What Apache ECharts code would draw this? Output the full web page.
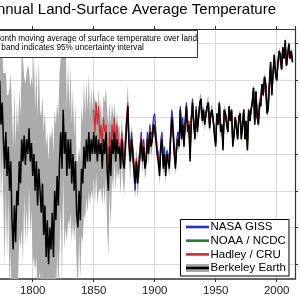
<!DOCTYPE html>
<html><head><meta charset="utf-8">
<script src="https://cdn.jsdelivr.net/npm/echarts@6/dist/echarts.min.js"></script>
<style>html,body{margin:0;padding:0;background:#fff}#c{width:300px;height:300px}</style>
</head><body><div id="c"></div>
<script>
// ---------------- data ----------------
const berkeleyStart = 1750;
const berkeley = [
-0.9,-0.6,-1.2,-0.4,-0.9,-1.1,-0.3,-0.7,-1.3,-0.5,
-1.4,-0.2,-0.6,-1.1,-0.4,-0.5,-0.7,-1.2,-0.9,-0.8,
-0.6,-1.0,-0.5,0.5,-0.1,0.2,-0.3,-0.7,-0.2,-0.8,
-0.4,-1.0,-0.6,-1.4,-1.8,-1.2,-1.7,-1.0,-1.2,-0.6,
-0.9,-0.3,-0.6,-0.25,-0.65,-0.3,-0.5,-0.15,-0.6,-0.35,
-0.8,-0.5,-1.0,-0.6,-1.2,-0.7,-1.0,-1.3,-0.9,-1.6,
-1.2,-1.9,-1.4,-2.0,-1.5,-1.8,-1.3,-1.9,-1.0,-1.4,
-0.8,-1.2,-0.6,-0.2,-0.7,0.1,-0.5,-0.2,-0.8,-0.3,
-0.7,-0.3,-0.9,-0.5,-1.0,-0.6,-1.3,-1.5,-1.0,-1.4,
-0.7,-0.9,-0.4,-0.7,-0.3,-0.6,-0.2,-0.6,-0.3,-0.5,
-0.2,-0.5,-0.25,-0.6,-0.3,-0.5,-0.35,-0.7,-0.3,-0.5,
-0.2,-0.7,-1.0,-0.4,-0.8,-0.3,-0.5,-0.2,-0.6,-0.3,
-0.5,-0.4,-0.7,-0.3,-0.6,-0.7,-0.4,-0.1,0.15,-0.4,
-0.6,-0.3,-0.5,-0.7,-0.9,-0.6,-0.9,-0.7,-0.5,-0.3,
-0.6,-0.4,-0.7,-0.6,-0.3,-0.5,-0.2,-0.4,-0.3,-0.1,
-0.15,-0.3,-0.5,-0.6,-0.8,-0.4,-0.3,-0.7,-0.5,-0.8,
-0.5,-0.6,-0.7,-0.3,0.0,-0.2,-0.5,-0.7,-0.4,-0.3,
-0.4,0.1,-0.3,-0.1,-0.4,-0.1,0.15,-0.2,-0.1,-0.6,
-0.05,0.2,-0.1,-0.3,0.1,-0.2,0.0,0.2,0.25,-0.05,
0.1,-0.1,0.05,0.15,0.2,-0.15,0.05,0.1,-0.05,-0.25,
-0.4,0.05,-0.1,0.2,-0.2,-0.1,-0.45,0.1,0.05,-0.1,
-0.2,0.15,-0.05,0.1,-0.4,-0.25,0.0,-0.15,-0.3,0.0,
0.05,-0.3,-0.1,0.1,-0.3,-0.05,-0.45,0.1,-0.05,0.1,
0.2,0.4,-0.1,0.35,0.0,-0.1,0.2,0.15,0.45,0.3,
0.55,0.45,0.05,0.1,0.45,0.75,0.3,0.6,0.85,0.6,
0.5,0.75,0.9,0.85,0.65,0.95,0.8,1.05,0.7,0.85,
1.0,0.8,0.9,0.75
];
const berkeleyUnc = [
1.3,1.5,1.2,1.4,1.3,1.1,1.5,1.2,1.4,1.3,
1.2,1.5,1.1,1.3,1.4,1.2,1.3,1.1,1.4,1.2,
1.3,1.0,1.2,0.5,1.1,0.7,0.9,1.3,0.8,1.1,
0.7,1.4,1.2,1.5,1.4,1.6,1.3,1.2,1.0,1.0,
0.9,1.2,1.4,0.8,1.1,0.9,1.2,0.8,1.0,0.9,
1.2,1.4,1.1,1.3,1.2,1.5,1.1,1.3,1.2,1.4,
1.3,1.5,1.2,1.4,1.3,1.5,1.2,1.4,1.1,1.3,
1.0,1.2,1.2,1.0,1.6,0.9,1.3,1.3,0.9,1.1,
0.8,1.0,0.8,0.9,0.7,0.8,0.7,0.9,0.6,0.8,
0.9,0.8,0.9,0.7,0.8,0.7,0.8,0.6,0.7,0.6,
0.6,0.7,0.5,0.6,0.7,0.5,0.6,0.5,0.6,0.7,
0.6,0.8,0.9,0.6,0.7,0.5,0.5,0.4,0.4,0.4,
0.35,0.3,0.35,0.3,0.3,0.35,0.3,0.25,0.3,0.25,
0.25,0.2,0.2,0.25,0.2,0.2,0.2,0.2,0.18,0.18,
0.18,0.15,0.15,0.15,0.15,0.15,0.15,0.14,0.14,0.13,
0.13,0.13,0.12,0.12,0.12,0.12,0.12,0.11,0.11,0.11,
0.11,0.11,0.11,0.1,0.1,0.1,0.1,0.1,0.1,0.1,
0.1,0.1,0.1,0.09,0.09,0.09,0.09,0.09,0.09,0.09,
0.09,0.09,0.09,0.09,0.09,0.09,0.09,0.09,0.09,0.09,
0.09,0.09,0.09,0.09,0.09,0.09,0.09,0.08,0.08,0.08,
0.07,0.07,0.07,0.07,0.07,0.07,0.07,0.07,0.07,0.07,
0.06,0.06,0.06,0.06,0.06,0.06,0.06,0.06,0.06,0.06,
0.06,0.06,0.06,0.06,0.06,0.06,0.06,0.06,0.06,0.06,
0.06,0.06,0.06,0.06,0.06,0.06,0.06,0.06,0.06,0.06,
0.06,0.06,0.06,0.06,0.06,0.06,0.06,0.06,0.06,0.06,
0.05,0.05,0.05,0.05,0.05,0.05,0.05,0.05,0.05,0.05,
0.05,0.05,0.05,0.05
];
const hadleyStart = 1850;
const hadley = [
0.1,-0.2,0.2,-0.1,0.15,-0.3,-0.1,-0.4,0.0,-0.2,
-0.1,-0.4,-0.7,-0.2,-0.5,-0.1,-0.3,0.0,-0.4,-0.1,
-0.3,-0.3,-0.5,-0.2,-0.4,-0.6,-0.3,0.0,0.2,-0.35,
-0.45,-0.3,-0.4,-0.65,-0.75,-0.55,-0.75,-0.6,-0.45,-0.25,
-0.5,-0.35,-0.6,-0.55,-0.3,-0.45,-0.15,-0.3,-0.35,-0.1,
-0.1,-0.25,-0.45,-0.55,-0.7,-0.45,-0.25,-0.6,-0.5,-0.7,
-0.5,-0.55,-0.6,-0.3,-0.05,-0.15,-0.45,-0.65,-0.4,-0.25,
-0.35,0.05,-0.25,-0.15,-0.35,-0.1,0.1,-0.15,-0.05,-0.5,
0.0,0.15,-0.05,-0.25,0.05,-0.15,0.0,0.15,0.2,0.0,
0.05,-0.05,0.0,0.1,0.15,-0.1,0.0,0.05,-0.05,-0.2,
-0.35,0.0,-0.05,0.15,-0.15,-0.1,-0.4,0.1,0.05,-0.05,
-0.15,0.1,0.0,0.05,-0.35,-0.2,0.0,-0.1,-0.25,0.0,
0.05,-0.25,-0.1,0.1,-0.25,-0.05,-0.4,0.1,-0.05,0.1,
0.2,0.35,-0.05,0.3,0.0,-0.05,0.2,0.2,0.4,0.3,
0.5,0.45,0.1,0.15,0.4,0.7,0.35,0.55,0.8,0.6,
0.5,0.7,0.85,0.8,0.65,0.9,0.8,1.0,0.7,0.8,
0.95,0.8,0.85,0.75
];
const nasaStart = 1880;
const nasa = [
-0.5,-0.2,-0.45,-0.75,-1.0,-0.7,-0.85,-0.6,-0.4,-0.2,
-0.55,-0.3,-0.6,-0.5,-0.2,-0.4,-0.1,-0.25,-0.2,0.0,
0.05,-0.2,-0.4,-0.5,-0.7,-0.3,-0.2,-0.6,-0.4,-0.7,
-0.45,-0.5,-0.6,-0.2,0.1,-0.05,-0.4,-0.6,-0.3,-0.2,
-0.3,0.15,-0.2,0.0,-0.3,0.0,0.2,-0.1,-0.05,-0.5,
0.0,0.25,-0.05,-0.25,0.15,-0.1,0.05,0.2,0.25,0.0,
0.1,-0.05,0.05,0.15,0.2,-0.1,0.05,0.1,-0.05,-0.2,
-0.35,0.05,-0.05,0.2,-0.15,-0.1,-0.4,0.1,0.05,-0.05,
-0.15,0.15,0.0,0.1,-0.35,-0.25,0.0,-0.1,-0.25,0.0,
0.05,-0.25,-0.1,0.1,-0.3,-0.05,-0.4,0.1,-0.05,0.1,
0.2,0.4,-0.05,0.35,0.0,-0.05,0.2,0.2,0.45,0.3,
0.55,0.45,0.1,0.1,0.45,0.7,0.35,0.6,0.8,0.6,
0.5,0.75,0.85,0.85,0.65,0.95,0.8,1.0,0.7,0.85,
1.0,0.8,0.85,0.75
];
const noaaStart = 1880;
const noaa = [
-0.55,-0.3,-0.5,-0.7,-0.85,-0.6,-0.85,-0.65,-0.5,-0.3,
-0.55,-0.4,-0.65,-0.55,-0.3,-0.45,-0.2,-0.35,-0.3,-0.1,
-0.1,-0.3,-0.45,-0.55,-0.75,-0.4,-0.3,-0.65,-0.5,-0.75,
-0.5,-0.55,-0.65,-0.3,0.0,-0.15,-0.45,-0.65,-0.4,-0.3,
-0.35,0.1,-0.25,-0.1,-0.35,-0.1,0.15,-0.15,-0.1,-0.55,
-0.05,0.2,-0.1,-0.25,0.1,-0.15,0.0,0.2,0.2,-0.05,
0.1,-0.1,0.05,0.1,0.15,-0.15,0.05,0.1,-0.05,-0.2,
-0.35,0.05,-0.1,0.2,-0.15,-0.1,-0.4,0.1,0.05,-0.1,
-0.2,0.15,-0.05,0.1,-0.35,-0.25,0.0,-0.15,-0.3,0.0,
0.05,-0.3,-0.1,0.1,-0.3,-0.05,-0.45,0.1,-0.05,0.1,
0.2,0.4,-0.1,0.35,0.0,-0.1,0.2,0.15,0.45,0.3,
0.55,0.45,0.05,0.1,0.45,0.75,0.3,0.6,0.85,0.6,
0.5,0.75,0.9,0.85,0.65,0.95,0.8,1.0,0.7,0.85,
1.0,0.8,0.9,0.75
];
const yGridValues = [-2, -1.5, -1, -0.5, 0, 0.5, 1];
const titleText = 'Annual Land-Surface Average Temperature';
const noteLines = ['12-month moving average of surface temperature over land', 'Gray band indicates 95% uncertainty interval'];
const seriesNames = ['NASA GISS', 'NOAA / NCDC', 'Hadley / CRU', 'Berkeley Earth'];
const seriesColors = ['#2233cc', '#2a7a2a', '#d8262e', '#000000'];
const bandColor = '#ababab';

// ---------------- build ----------------
const FONT = 'Liberation Sans, Arial, Helvetica, sans-serif';
const toPairs = (start, arr) => arr.map((v, i) => [start + i, v]);
const bandLow = berkeley.map((v, i) => [berkeleyStart + i, v - berkeleyUnc[i]]);
const bandHigh = berkeley.map((v, i) => [berkeleyStart + i, v + berkeleyUnc[i]]);

const cv = document.createElement('canvas').getContext('2d');
cv.font = '8.2px ' + FONT;
const noteOffset = cv.measureText('12-m').width;

const lineSeries = (name, color, data, width) => ({
  name, type: 'line', data, symbol: 'none', xAxisIndex: 0, yAxisIndex: 0,
  lineStyle: { color, width }, itemStyle: { color }, animation: false, z: 3
});

const legendY = [227, 240.7, 254.4, 268];
const legendGraphics = [];
legendGraphics.push({ type: 'rect', z: 100, shape: { x: 180.5, y: 219.5, width: 108.5, height: 56.5 },
  style: { fill: '#fff', stroke: '#000', lineWidth: 1 } });
seriesNames.forEach((n, i) => {
  if (i === 3) {
    legendGraphics.push({ type: 'rect', z: 101, shape: { x: 186, y: legendY[i] - 4, width: 23, height: 8 },
      style: { fill: bandColor } });
  }
  legendGraphics.push({ type: 'line', z: 102, shape: { x1: 186, y1: legendY[i], x2: 209, y2: legendY[i] },
    style: { stroke: seriesColors[i], lineWidth: 2.6 } });
  legendGraphics.push({ type: 'text', z: 102, x: 210.5, y: legendY[i],
    style: { text: n, font: '11.5px ' + FONT, fill: '#000', textAlign: 'left', textVerticalAlign: 'middle' } });
});

const option = {
  animation: false,
  backgroundColor: '#fff',
  grid: { left: -28.3, right: 5, top: 29, bottom: 21, containLabel: false, outerBoundsMode: 'none' },
  xAxis: [
    { type: 'value', min: 1750, max: 2015, interval: 50, position: 'bottom',
      axisLine: { show: true, onZero: false, lineStyle: { color: '#333', width: 1.5 } },
      axisTick: { show: true, inside: false, length: 3, lineStyle: { color: '#333' } },
      axisLabel: { show: true, color: '#222', fontSize: 11.5, fontFamily: FONT, margin: 6,
        formatter: v => String(v), hideOverlap: false },
      splitLine: { show: true, lineStyle: { color: '#d9d9d9', width: 1 } } },
    { type: 'value', min: 1750, max: 2015, interval: 50, position: 'top',
      axisLine: { show: true, onZero: false, lineStyle: { color: '#333', width: 1 } },
      axisTick: { show: true, inside: false, length: 3, lineStyle: { color: '#333' } },
      axisLabel: { show: false }, splitLine: { show: false } }
  ],
  yAxis: [
    { type: 'value', min: -2.2, max: 1.2, position: 'left',
      axisLine: { show: false, onZero: false }, axisLabel: { show: false },
      axisTick: { show: false, customValues: yGridValues },
      splitLine: { show: true, lineStyle: { color: '#d9d9d9', width: 1 } } },
    { type: 'value', min: -2.2, max: 1.2, position: 'right',
      axisLine: { show: true, onZero: false, lineStyle: { color: '#333', width: 1.2 } },
      axisTick: { show: true, inside: false, length: 3, customValues: yGridValues, lineStyle: { color: '#333' } },
      axisLabel: { show: false }, splitLine: { show: false } }
  ],
  series: [
    { name: 'band', type: 'custom', data: [[1900, 0]], z: 1, silent: true, xAxisIndex: 0, yAxisIndex: 0,
      renderItem: (params, api) => {
        const pts = [];
        for (let i = 0; i < bandHigh.length; i++) pts.push(api.coord(bandHigh[i]));
        for (let i = bandLow.length - 1; i >= 0; i--) pts.push(api.coord(bandLow[i]));
        const cs = params.coordSys;
        return { type: 'polygon', shape: { points: pts }, style: { fill: bandColor, stroke: null },
          clipPath: { type: 'rect', shape: { x: cs.x, y: cs.y, width: cs.width, height: cs.height } } };
      } },
    lineSeries(seriesNames[0], seriesColors[0], toPairs(nasaStart, nasa), 1.2),
    lineSeries(seriesNames[1], seriesColors[1], toPairs(noaaStart, noaa), 1.2),
    lineSeries(seriesNames[2], seriesColors[2], toPairs(hadleyStart, hadley), 1.2),
    lineSeries(seriesNames[3], seriesColors[3], toPairs(berkeleyStart, berkeley), 1.5)
  ],
  graphic: [
    { type: 'text', z: 100, x: 276, y: 10, style: { text: titleText, font: '15px ' + FONT, fill: '#000',
      textAlign: 'right', textVerticalAlign: 'middle' } },
    { type: 'rect', z: 100, shape: { x: -60, y: 30.5, width: 257.5, height: 27 },
      style: { fill: '#fff', stroke: '#000', lineWidth: 0.8 } },
    { type: 'text', z: 101, x: -noteOffset, y: 38.5, style: { text: noteLines[0], font: '8.2px ' + FONT, fill: '#000',
      textAlign: 'left', textVerticalAlign: 'middle' } },
    { type: 'text', z: 101, x: -noteOffset, y: 48, style: { text: noteLines[1], font: '8.2px ' + FONT, fill: '#000',
      textAlign: 'left', textVerticalAlign: 'middle' } }
  ].concat(legendGraphics)
};

const chart = echarts.init(document.getElementById('c'), null, { renderer: 'canvas' });
chart.setOption(option);
</script>
</body></html>
